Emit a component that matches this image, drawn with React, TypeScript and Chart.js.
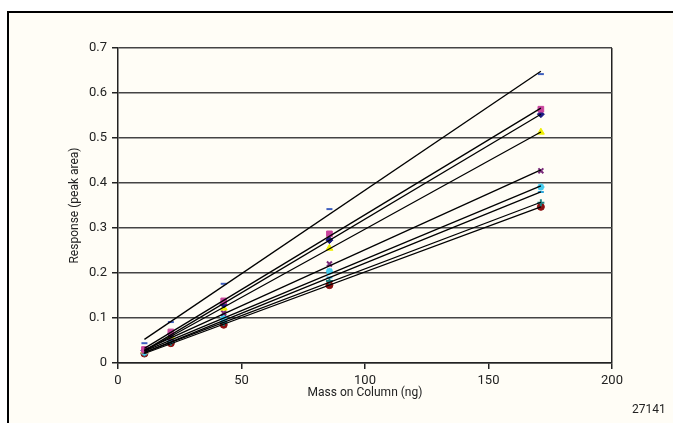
import React, { useEffect, useRef } from "react";
import { Chart, registerables } from "chart.js";

Chart.register(...registerables);

const massOnColumn = [10.7, 21.4, 42.8, 85.6, 171.2];
const xTicks = [0, 50, 100, 150, 200];
const yTicks = [0, 0.1, 0.2, 0.3, 0.4, 0.5, 0.6, 0.7];

const seriesBlueDash = [0.044, 0.091, 0.176, 0.342, 0.642];
const seriesPinkSquare = [0.03, 0.069, 0.138, 0.287, 0.564];
const seriesNavyDiamond = [0.028, 0.064, 0.13, 0.273, 0.553];
const seriesYellowTriangle = [0.027, 0.06, 0.122, 0.255, 0.513];
const seriesPurpleX = [0.026, 0.055, 0.111, 0.22, 0.427];
const seriesCyanStar = [0.024, 0.05, 0.1, 0.204, 0.391];
const seriesLightBlueDash = [0.022, 0.048, 0.094, 0.19, 0.38];
const seriesTealPlus = [0.022, 0.046, 0.09, 0.182, 0.356];
const seriesRedCircle = [0.021, 0.044, 0.085, 0.173, 0.347];

const seriesList = [
  { values: seriesBlueDash, color: "#3f5fbf", style: "line", r: 3 },
  { values: seriesPinkSquare, color: "#c8449c", style: "rect", r: 4 },
  { values: seriesNavyDiamond, color: "#1a1a80", style: "rectRot", r: 3.5 },
  { values: seriesYellowTriangle, color: "#eeee00", style: "triangle", r: 4 },
  { values: seriesPurpleX, color: "#7a2a7a", style: "crossRot", r: 3.5 },
  { values: seriesCyanStar, color: "#44ccee", style: "star", r: 3.5 },
  { values: seriesLightBlueDash, color: "#33aadd", style: "line", r: 3 },
  { values: seriesTealPlus, color: "#1f8080", style: "cross", r: 3.5 },
  { values: seriesRedCircle, color: "#8b1010", style: "circle", r: 3.5 },
];

function linearFit(xs: number[], ys: number[]) {
  const n = xs.length;
  const mx = xs.reduce((a, b) => a + b, 0) / n;
  const my = ys.reduce((a, b) => a + b, 0) / n;
  let num = 0;
  let den = 0;
  for (let i = 0; i < n; i++) {
    num += (xs[i] - mx) * (ys[i] - my);
    den += (xs[i] - mx) * (xs[i] - mx);
  }
  const slope = num / den;
  const intercept = my - slope * mx;
  return (x: number) => intercept + slope * x;
}

const FONT = "Roboto, 'Liberation Sans', sans-serif";

export default function App() {
  const ref = useRef<HTMLCanvasElement | null>(null);

  useEffect(() => {
    if (!ref.current) return;
    const datasets: any[] = [];
    seriesList.forEach((s, i) => {
      datasets.push({
        label: "pts" + i,
        data: massOnColumn.map((x, j) => ({ x, y: s.values[j] })),
        pointStyle: s.style,
        pointRadius: s.r,
        pointBackgroundColor: s.color,
        pointBorderColor: s.color,
        pointBorderWidth: s.style === "line" || s.style.startsWith("cross") || s.style === "star" ? 2 : 1,
        showLine: false,
        order: 2,
      });
    });
    seriesList.forEach((s, i) => {
      const f = linearFit(massOnColumn, s.values);
      const x0 = massOnColumn[0];
      const x1 = massOnColumn[massOnColumn.length - 1];
      datasets.push({
        label: "fit" + i,
        data: [
          { x: x0, y: f(x0) },
          { x: x1, y: f(x1) },
        ],
        showLine: true,
        borderColor: "#000",
        borderWidth: 1.3,
        pointRadius: 0,
        order: 1,
      });
    });

    const chart = new Chart(ref.current, {
      type: "scatter",
      data: { datasets },
      options: {
        animation: false,
        responsive: false,
        maintainAspectRatio: false,
        layout: { padding: { left: 60, right: 61, top: 48, bottom: 20 } },
        plugins: { legend: { display: false }, tooltip: { enabled: false } },
        scales: {
          x: {
            type: "linear",
            min: 0,
            max: 200,
            afterBuildTicks: (scale: any) => {
              scale.ticks = xTicks.map((v) => ({ value: v }));
            },
            afterFit: (scale: any) => {
              scale.height = 40;
            },
            grid: {
              display: true,
              drawOnChartArea: true,
              color: (ctx: any) => (ctx.tick && ctx.tick.value === 200 ? "#222" : "rgba(0,0,0,0)"),
              lineWidth: 1.5,
              tickColor: "#222",
              tickLength: 6,
            },
            border: { display: true, color: "#222", width: 1.5 },
            ticks: {
              color: "#222",
              padding: 4,
              font: { family: FONT, size: 13 },
            },
            title: {
              display: true,
              text: "Mass on Column (ng)",
              color: "#222",
              font: { family: FONT, size: 12 },
              padding: { top: 0, bottom: 3 },
            },
          },
          y: {
            type: "linear",
            min: 0,
            max: 0.7,
            afterBuildTicks: (scale: any) => {
              scale.ticks = yTicks.map((v) => ({ value: v }));
            },
            afterFit: (scale: any) => {
              scale.width = 58;
            },
            grid: {
              color: "#444",
              lineWidth: 1.5,
              tickColor: "#222",
              tickLength: 6,
            },
            border: { display: true, color: "#222", width: 1.5 },
            ticks: {
              color: "#222",
              padding: 5,
              font: { family: FONT, size: 13 },
              callback: (v: any) => String(Math.round(Number(v) * 10) / 10),
            },
            title: {
              display: true,
              text: "Response (peak area)",
              color: "#222",
              font: { family: FONT, size: 12 },
              padding: { top: 8, bottom: 0 },
            },
          },
        },
      },
    });
    return () => chart.destroy();
  }, []);

  return (
    <div style={{ position: "absolute", left: 0, top: 0, width: 673, height: 423, background: "#fff", overflow: "hidden" }}>
      <div
        style={{
          position: "absolute",
          left: 7,
          top: 11,
          width: 673,
          height: 423,
          borderLeft: "2px solid #000",
          borderTop: "2px solid #000",
          background: "#fffdf6",
        }}
      />
      <canvas ref={ref} width={673} height={423} style={{ position: "absolute", left: 0, top: 0 }} />
      <div
        style={{
          position: "absolute",
          left: 632,
          top: 402,
          fontFamily: FONT,
          fontSize: 12,
          color: "#222",
          lineHeight: "14px",
        }}
      >
        27141
      </div>
    </div>
  );
}
